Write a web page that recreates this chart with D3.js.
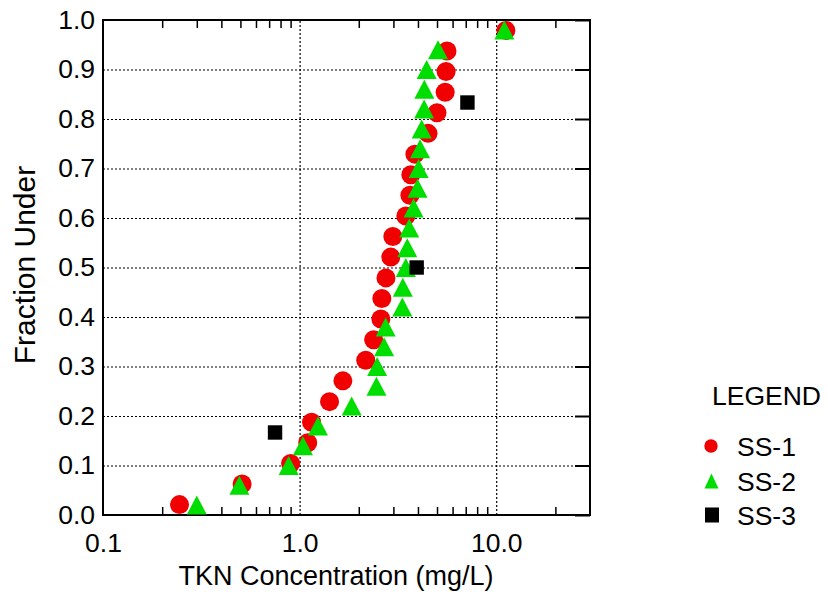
<!DOCTYPE html>
<html><head><meta charset="utf-8">
<script src="https://cdn.jsdelivr.net/npm/d3@7"></script>
<style>
html,body{margin:0;padding:0;background:#fff;}
svg{display:block;font-family:"Liberation Sans",Arial,sans-serif;}
</style></head>
<body><svg id="c" width="828" height="597"></svg>
<script>
// ---- data ----
const ss1X = [0.245,0.51,0.90,1.10,1.15,1.42,1.66,2.17,2.38,2.59,2.62,2.75,2.91,2.98,3.47,3.64,3.68,3.86,4.50,5.0,5.5,5.56,5.62,11.2];
const ss1Y = [0.021,0.0625,0.104,0.146,0.1875,0.229,0.271,0.3125,0.354,0.396,0.4375,0.479,0.521,0.5625,0.604,0.646,0.6875,0.729,0.771,0.8125,0.854,0.896,0.9375,0.979];
const ss2X = [0.30,0.494,0.88,1.04,1.24,1.84,2.46,2.48,2.69,2.74,3.33,3.35,3.47,3.53,3.61,3.80,3.98,4.03,4.10,4.18,4.30,4.31,4.43,5.06,11.0];
const ss2Y = [0.02,0.06,0.10,0.14,0.18,0.22,0.26,0.30,0.34,0.38,0.42,0.46,0.50,0.54,0.58,0.62,0.66,0.70,0.74,0.78,0.82,0.86,0.90,0.94,0.98];
const ss3X = [0.75,3.94,7.14];
const ss3Y = [0.1667,0.5,0.8333];
const xDomain = [0.1,30];
const xMajor = [0.1,1,10];
const xMinor = [0.2,0.3,0.4,0.5,0.6,0.7,0.8,0.9,2,3,4,5,6,7,8,9,20];
const xGrid = [1,10];
const yTicks = [0,0.1,0.2,0.3,0.4,0.5,0.6,0.7,0.8,0.9,1.0];
const yGrid = [0.1,0.2,0.3,0.4,0.5,0.6,0.7,0.8,0.9];
const seriesNames = ["SS-1","SS-2","SS-3"];
const seriesColors = ["#f00000","#00dd00","#000000"];
const xTitle = "TKN Concentration (mg/L)";
const yTitle = "Fraction Under";
const legendTitle = "LEGEND";

// ---- layout ----
const L=103, R=590, T=20, B=515;
const svg = d3.select("#c");
const x = d3.scaleLog().domain(xDomain).range([L,R]);
const y = d3.scaleLinear().domain([0,1]).range([B,T]);

// gridlines
const gy = svg.append("g").attr("transform",`translate(${L},0)`)
  .call(d3.axisLeft(y).tickValues(yGrid).tickSize(-(R-L)).tickFormat(""));
gy.select(".domain").remove();
gy.selectAll("line").attr("stroke","#000").attr("stroke-width",1.2).attr("stroke-dasharray","2,2");
const gx = svg.append("g").attr("transform",`translate(0,${B})`)
  .call(d3.axisBottom(x).tickValues(xGrid).tickSize(-(B-T)).tickFormat(""));
gx.select(".domain").remove();
gx.selectAll("line").attr("stroke","#000").attr("stroke-width",1.2).attr("stroke-dasharray","2,2");

// minor ticks top & bottom (inward)
const mb = svg.append("g").attr("transform",`translate(0,${B})`)
  .call(d3.axisBottom(x).tickValues(xMinor).tickSize(-8).tickFormat(""));
mb.select(".domain").remove();
mb.selectAll("line").attr("stroke","#000").attr("stroke-width",1.5);
const mt = svg.append("g").attr("transform",`translate(0,${T})`)
  .call(d3.axisTop(x).tickValues(xMinor).tickSize(-8).tickFormat(""));
mt.select(".domain").remove();
mt.selectAll("line").attr("stroke","#000").attr("stroke-width",1.5);

// right major ticks (inward)
const rt = svg.append("g").attr("transform",`translate(${R},0)`)
  .call(d3.axisRight(y).tickValues(yTicks).tickSize(-15).tickFormat(""));
rt.select(".domain").remove();
rt.selectAll("line").attr("stroke","#000").attr("stroke-width",2);

// tick labels
const yl = svg.append("g").attr("transform",`translate(${L},0)`)
  .call(d3.axisLeft(y).tickValues(yTicks).tickSize(0).tickPadding(8).tickFormat(d3.format(".1f")));
yl.select(".domain").remove();
yl.selectAll("text").attr("font-size","26.5px").attr("fill","#000").attr("font-family","Liberation Sans, Arial, sans-serif");
const xl = svg.append("g").attr("transform",`translate(0,${B})`)
  .call(d3.axisBottom(x).tickValues(xMajor).tickSize(0).tickPadding(18).tickFormat(d3.format(".1f")));
xl.select(".domain").remove();
xl.selectAll("text").attr("font-size","26.5px").attr("fill","#000").attr("font-family","Liberation Sans, Arial, sans-serif");

// frame
svg.append("rect").attr("x",L).attr("y",T).attr("width",R-L).attr("height",B-T)
  .attr("fill","none").attr("stroke","#000").attr("stroke-width",2);

// markers
const ss1 = ss1X.map((v,i)=>({x:v,y:ss1Y[i]}));
const ss2 = ss2X.map((v,i)=>({x:v,y:ss2Y[i]}));
const ss3 = ss3X.map((v,i)=>({x:v,y:ss3Y[i]}));
function tri(cx,cy,w,h){return `M${cx},${cy-h/2}L${cx+w/2},${cy+h/2}L${cx-w/2},${cy+h/2}Z`;}

svg.append("g").selectAll("circle").data(ss1).join("circle")
  .attr("cx",d=>x(d.x)).attr("cy",d=>y(d.y)).attr("r",9.5).attr("fill",seriesColors[0]);
svg.append("g").selectAll("path").data(ss2).join("path")
  .attr("d",d=>tri(x(d.x),y(d.y),20,19)).attr("fill",seriesColors[1]);
svg.append("g").selectAll("rect").data(ss3).join("rect")
  .attr("x",d=>x(d.x)-7.2).attr("y",d=>y(d.y)-7.2).attr("width",14.4).attr("height",14.4).attr("fill",seriesColors[2]);

// titles
svg.append("text").attr("x",(179+493)/2).attr("y",585).attr("text-anchor","middle")
  .attr("font-size","27px").attr("fill","#000").text(xTitle);
svg.append("text").attr("transform",`translate(35,265) rotate(-90)`).attr("text-anchor","middle")
  .attr("font-size","30px").attr("fill","#000").text(yTitle);

// legend
const lg = svg.append("g");
lg.append("text").attr("x",712).attr("y",405).attr("font-size","26.5px").attr("fill","#000").text(legendTitle);
const ly = [446,481,515];
lg.append("circle").attr("cx",711).attr("cy",ly[0]).attr("r",6.7).attr("fill",seriesColors[0]);
lg.append("path").attr("d",tri(711.5,ly[1],14,15)).attr("fill",seriesColors[1]);
lg.append("rect").attr("x",705).attr("y",ly[2]-7.5).attr("width",14).attr("height",15).attr("fill",seriesColors[2]);
seriesNames.forEach((n,i)=>{
  lg.append("text").attr("x",737).attr("y",ly[i]+10).attr("font-size","26.5px").attr("fill","#000").text(n);
});
</script></body></html>
